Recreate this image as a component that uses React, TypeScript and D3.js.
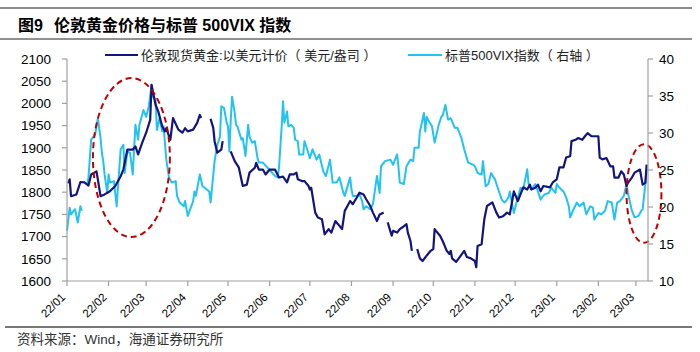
import * as d3 from 'd3';

// London spot gold, USD/oz (null = no fixing that day)
const goldDates = [
  '2022-01-02', '2022-01-03', '2022-01-04', '2022-01-08', '2022-01-11', '2022-01-14', '2022-01-17', '2022-01-19',
  '2022-01-23', '2022-01-26', '2022-01-29', '2022-02-02', '2022-02-06', '2022-02-10', '2022-02-12', '2022-02-15',
  '2022-02-19', '2022-02-21', '2022-02-23', '2022-02-26', '2022-03-01', '2022-03-04', '2022-03-05', '2022-03-08',
  '2022-03-10', '2022-03-13', '2022-03-15', '2022-03-16', '2022-03-19', '2022-03-21', '2022-03-25', '2022-03-28',
  '2022-03-30', '2022-04-01', '2022-04-05', '2022-04-08', '2022-04-10', '2022-04-11', '2022-04-14', '2022-04-18',
  '2022-04-20', '2022-04-21', '2022-04-23', '2022-04-26', '2022-04-27', '2022-04-30', '2022-05-03', '2022-05-06',
  '2022-05-09', '2022-05-12', '2022-05-15', '2022-05-17', '2022-05-21', '2022-05-22', '2022-05-24', '2022-05-27',
  '2022-05-29', '2022-06-01', '2022-06-05', '2022-06-08', '2022-06-11', '2022-06-14', '2022-06-16', '2022-06-19',
  '2022-06-21', '2022-06-22', '2022-06-25', '2022-06-27', '2022-06-30', '2022-07-01', '2022-07-02', '2022-07-05',
  '2022-07-07', '2022-07-10', '2022-07-12', '2022-07-15', '2022-07-17', '2022-07-20', '2022-07-22', '2022-07-25',
  '2022-07-27', '2022-07-29', '2022-07-31', '2022-08-02', '2022-08-05', '2022-08-07', '2022-08-10', '2022-08-12',
  '2022-08-15', '2022-08-17', '2022-08-20', '2022-08-22', '2022-08-25', '2022-08-27', '2022-08-28', '2022-08-31',
  '2022-09-01', '2022-09-04', '2022-09-06', '2022-09-08', '2022-09-11', '2022-09-12', '2022-09-14', '2022-09-15',
  '2022-09-17', '2022-09-19', '2022-09-21', '2022-09-23', '2022-09-26', '2022-09-29', '2022-10-01', '2022-10-02',
  '2022-10-03', '2022-10-06', '2022-10-08', '2022-10-11', '2022-10-13', '2022-10-14', '2022-10-15', '2022-10-18',
  '2022-10-20', '2022-10-24', '2022-10-26', '2022-10-29', '2022-11-01', '2022-11-02', '2022-11-03', '2022-11-06',
  '2022-11-08', '2022-11-10', '2022-11-14', '2022-11-17', '2022-11-19', '2022-11-22', '2022-11-25', '2022-11-27',
  '2022-11-29', '2022-11-30', '2022-12-03', '2022-12-07', '2022-12-10', '2022-12-12', '2022-12-13', '2022-12-16',
  '2022-12-18', '2022-12-20', '2022-12-22', '2022-12-27', '2022-12-29', '2023-01-01', '2023-01-03', '2023-01-06',
  '2023-01-08', '2023-01-11', '2023-01-12', '2023-01-15', '2023-01-17', '2023-01-20', '2023-01-22', '2023-01-24',
  '2023-01-27', '2023-01-29', '2023-02-01', '2023-02-02', '2023-02-04', '2023-02-07', '2023-02-10', '2023-02-12',
  '2023-02-13', '2023-02-16', '2023-02-18', '2023-02-20', '2023-02-22', '2023-02-23', '2023-02-26', '2023-02-28',
  '2023-03-04', '2023-03-06', '2023-03-08', '2023-03-09',
];
const goldValues: (number | null)[] = [
  1820, 1829, 1791, 1795, 1823, 1822, 1815, 1840,
  1847, 1791, 1795, 1802, 1814, 1836, 1851, 1896,
  1896, 1903, 1885, 1911, 1934, 1963, 2042, 1997,
  1982, 1948, 1937, 1944, 1918, 1967, 1941, 1934,
  1944, 1937, 1941, 1956, 1974, 1967, null, 1965,
  1945, 1915, 1889, 1896, 1915, null, 1892, 1870,
  1856, 1814, 1817, 1844, 1855, 1866, 1851, 1851,
  1840, 1851, 1851, 1833, 1835, 1822, 1840, 1840,
  1844, 1829, 1825, 1825, 1814, 1806, 1810, 1754,
  1743, 1739, 1705, 1717, 1709, 1735, 1728, 1717,
  1758, 1769, 1780, 1773, 1788, 1799, 1795, 1784,
  1769, 1754, 1735, 1750, 1754, null, 1732, 1702,
  1713, 1709, 1717, 1721, 1728, 1709, 1690, 1668,
  null, 1672, 1651, 1645, 1657, 1668, 1672, 1717,
  1713, 1702, 1690, 1668, 1661, 1668, 1651, 1643,
  1651, 1668, 1654, 1651, 1645, 1631, 1679, 1683,
  1739, 1769, 1777, 1754, 1743, 1746, 1754, 1750,
  1784, 1802, 1780, 1811, 1806, 1817, 1806, 1810,
  1817, 1802, 1814, 1811, 1822, 1829, 1856, 1856,
  1878, 1881, 1915, 1918, 1922, 1918, 1926, 1933,
  1926, 1926, 1926, 1878, 1874, 1877, 1858, 1858,
  1833, 1833, 1847, 1840, 1814, 1821, 1833, 1844,
  1851, 1817, 1821, 1862,
];

// S&P 500 VIX (right axis)
const vixDates = [
  '2022-01-01', '2022-01-03', '2022-01-04', '2022-01-06', '2022-01-07', '2022-01-09', '2022-01-11', '2022-01-12',
  '2022-01-14', '2022-01-16', '2022-01-17', '2022-01-19', '2022-01-22', '2022-01-24', '2022-01-26', '2022-01-27',
  '2022-01-28', '2022-01-29', '2022-01-31', '2022-02-01', '2022-02-02', '2022-02-05', '2022-02-07', '2022-02-10',
  '2022-02-12', '2022-02-13', '2022-02-15', '2022-02-17', '2022-02-19', '2022-02-21', '2022-02-23', '2022-02-24',
  '2022-02-27', '2022-03-01', '2022-03-03', '2022-03-05', '2022-03-06', '2022-03-08', '2022-03-09', '2022-03-11',
  '2022-03-13', '2022-03-14', '2022-03-16', '2022-03-18', '2022-03-20', '2022-03-23', '2022-03-24', '2022-03-26',
  '2022-03-29', '2022-03-30', '2022-04-01', '2022-04-05', '2022-04-06', '2022-04-07', '2022-04-10', '2022-04-12',
  '2022-04-15', '2022-04-17', '2022-04-18', '2022-04-21', '2022-04-23', '2022-04-25', '2022-04-26', '2022-04-28',
  '2022-04-30', '2022-05-01', '2022-05-02', '2022-05-03', '2022-05-04', '2022-05-06', '2022-05-07', '2022-05-08',
  '2022-05-11', '2022-05-12', '2022-05-14', '2022-05-16', '2022-05-17', '2022-05-19', '2022-05-21', '2022-05-23',
  '2022-05-24', '2022-05-27', '2022-05-29', '2022-06-02', '2022-06-05', '2022-06-07', '2022-06-08', '2022-06-10',
  '2022-06-11', '2022-06-12', '2022-06-14', '2022-06-15', '2022-06-17', '2022-06-19', '2022-06-20', '2022-06-22',
  '2022-06-23', '2022-06-26', '2022-06-27', '2022-06-29', '2022-07-01', '2022-07-03', '2022-07-06', '2022-07-08',
  '2022-07-11', '2022-07-13', '2022-07-16', '2022-07-18', '2022-07-21', '2022-07-23', '2022-07-26', '2022-07-27',
  '2022-07-31', '2022-08-01', '2022-08-02', '2022-08-05', '2022-08-07', '2022-08-09', '2022-08-10', '2022-08-12',
  '2022-08-15', '2022-08-17', '2022-08-20', '2022-08-22', '2022-08-23', '2022-08-26', '2022-08-30', '2022-09-01',
  '2022-09-04', '2022-09-05', '2022-09-06', '2022-09-09', '2022-09-11', '2022-09-14', '2022-09-16', '2022-09-17',
  '2022-09-20', '2022-09-21', '2022-09-24', '2022-09-25', '2022-09-26', '2022-09-27', '2022-09-30', '2022-10-02',
  '2022-10-05', '2022-10-07', '2022-10-08', '2022-10-10', '2022-10-12', '2022-10-14', '2022-10-17', '2022-10-19',
  '2022-10-22', '2022-10-24', '2022-10-27', '2022-10-31', '2022-11-01', '2022-11-03', '2022-11-06', '2022-11-07',
  '2022-11-09', '2022-11-11', '2022-11-13', '2022-11-16', '2022-11-18', '2022-11-21', '2022-11-23', '2022-11-25',
  '2022-11-26', '2022-11-27', '2022-11-30', '2022-12-02', '2022-12-05', '2022-12-07', '2022-12-08', '2022-12-10',
  '2022-12-11', '2022-12-13', '2022-12-16', '2022-12-18', '2022-12-20', '2022-12-21', '2022-12-23', '2022-12-26',
  '2022-12-28', '2022-12-31', '2023-01-01', '2023-01-03', '2023-01-06', '2023-01-08', '2023-01-10', '2023-01-11',
  '2023-01-13', '2023-01-16', '2023-01-18', '2023-01-21', '2023-01-23', '2023-01-26', '2023-01-28', '2023-01-29',
  '2023-02-01', '2023-02-03', '2023-02-06', '2023-02-08', '2023-02-11', '2023-02-13', '2023-02-15', '2023-02-17',
  '2023-02-20', '2023-02-22', '2023-02-23', '2023-02-26', '2023-02-28', '2023-03-03', '2023-03-05', '2023-03-06',
  '2023-03-08', '2023-03-09',
];
const vixValues: (number | null)[] = [
  16.8, 19.9, 19.0, 19.5, 19.7, 17.9, 20.1, 19.5,
  null, 23.0, 24.0, 29.1, 29.8, 32.0, 29.3, 27.3,
  26.2, 24.4, 21.9, 24.4, 23.3, 23.5, 20.1, 27.8,
  28.4, 24.6, 27.5, 27.3, 24.4, 31.1, 29.1, 31.1,
  33.1, 32.2, 33.6, 36.5, 34.9, 34.5, 30.4, 32.0,
  30.2, 30.9, 26.4, 24.0, 23.3, 23.5, 21.5, 20.6,
  20.1, 20.8, 18.8, 20.8, 22.1, 21.5, 24.4, 22.8,
  22.4, 22.1, 20.6, 26.2, 28.4, 29.5, 33.6, 33.4,
  31.4, 30.9, 27.5, 31.6, 34.9, 32.7, 31.1, 30.9,
  29.1, 29.3, 26.9, 31.1, 29.5, 28.7, 28.9, 26.6,
  26.0, 26.0, 25.6, 24.8, 24.2, 24.0, 25.3, 30.9,
  34.3, 31.4, 32.9, 30.9, 31.1, 30.7, 29.1, 28.9,
  27.1, 27.1, 28.9, 27.8, 26.6, 27.8, 26.4, 27.1,
  24.8, 24.2, 26.4, 23.3, 23.3, 24.0, 21.9, 21.5,
  24.0, 22.4, 21.5, 21.5, 21.7, 20.8, 19.7, 20.1,
  19.7, 20.4, 24.2, 21.9, 25.5, 26.2, 26.4, 25.7,
  27.1, 25.5, 23.3, 23.1, 25.5, 26.4, 26.2, 28.0,
  28.0, 30.2, 32.7, 30.2, 32.2, 31.8, 30.9, 28.7,
  31.1, 32.2, 32.4, 33.8, 31.8, 32.0, 30.7, 30.7,
  29.3, 27.8, 26.0, 25.7, 25.5, 24.6, 24.4, 26.2,
  22.8, 23.1, 24.6, 23.7, 22.6, 21.0, 20.6, 21.0,
  21.3, 22.1, 19.2, 20.6, 22.6, 22.4, 23.3, 25.1,
  23.1, 22.4, 23.1, 22.1, 21.0, 21.3, 21.7, 21.9,
  22.6, 21.9, 23.1, 22.6, 22.1, 21.3, 20.1, 18.6,
  19.5, 20.6, 20.1, 20.6, 19.0, 20.1, 19.9, 18.3,
  19.2, 19.0, 19.5, 20.8, 20.6, 18.3, 20.6, 20.8,
  21.5, 23.1, 21.9, 19.5, 18.6, 18.8, 19.5, 19.7,
  23.1, 25.1,
];

const leftTicks = [1600, 1650, 1700, 1750, 1800, 1850, 1900, 1950, 2000, 2050, 2100];
const rightTicks = [10, 15, 20, 25, 30, 35, 40];

// red dashed highlight rings: centre date, half-width in days, centre gold value, half-height in gold
const highlightDates = ['2022-02-18', '2023-03-07'];
const highlightDays = [28.7, 13];
const highlightGold = [1878, 1797];
const highlightSpan = [179, 111];

const GOLD = '#14147f';
const VIX = '#22c3f2';
const NUM_FONT = '"Liberation Sans", Arial, sans-serif';
const CJK_FONT = '"Liberation Sans", "Noto Sans CJK SC", sans-serif';

const parse = d3.timeParse('%Y-%m-%d');

export default function App() {
  const left = 67, right = 648, top = 59, bottom = 281;

  const x = d3.scaleTime()
    .domain([parse('2022-01-01')!, parse('2023-03-10')!])
    .range([left, right]);
  const yL = d3.scaleLinear().domain([1600, 2100]).range([bottom, top]);
  const yR = d3.scaleLinear().domain([10, 40]).range([bottom, top]);

  const gold = goldDates.map((d, i) => ({ date: parse(d)!, v: goldValues[i] }));
  const vix = vixDates.map((d, i) => ({ date: parse(d)!, v: vixValues[i] }));

  const goldLine = d3.line<{ date: Date; v: number | null }>()
    .defined(d => d.v != null)
    .x(d => x(d.date))
    .y(d => yL(d.v as number));
  const vixLine = d3.line<{ date: Date; v: number | null }>()
    .defined(d => d.v != null)
    .x(d => x(d.date))
    .y(d => yR(d.v as number));

  const months = x.ticks(d3.timeMonth.every(1)!);
  const fmt = d3.timeFormat('%y/%m');

  return (
    <div style={{ position: 'fixed', left: 0, top: 0 }}>
      <svg width={700} height={352} style={{ display: 'block', background: '#fff' }}>
        {/* header */}
        <line x1={0} x2={692} y1={8} y2={8} stroke="#666" strokeWidth={1.5} />
        <text x={18} y={31} fontFamily={CJK_FONT} fontSize={16} fontWeight="bold" fill="#000">
          <tspan>图9</tspan>
          <tspan dx={11}>伦敦黄金价格与标普 500VIX 指数</tspan>
        </text>
        <line x1={0} x2={692} y1={39} y2={39} stroke="#222" strokeWidth={1} />

        {/* legend */}
        <line x1={105} x2={138} y1={55} y2={55} stroke={GOLD} strokeWidth={2} />
        <text x={141} y={59.5} fontFamily={CJK_FONT} fontSize={13} fill="#222">
          伦敦现货黄金:以美元计价（ 美元/盎司 ）
        </text>
        <line x1={408} x2={442} y1={55} y2={55} stroke={VIX} strokeWidth={2} />
        <text x={445} y={59.5} fontFamily={CJK_FONT} fontSize={13} fill="#222">
          标普500VIX指数（ 右轴 ）
        </text>

        {/* series */}
        <path d={vixLine(vix) ?? ''} fill="none" stroke={VIX} strokeWidth={2} strokeLinejoin="round" />
        <path d={goldLine(gold) ?? ''} fill="none" stroke={GOLD} strokeWidth={2.2} strokeLinejoin="round" />

        {/* highlight rings */}
        {highlightDates.map((d, i) => {
          const c = parse(d)!;
          const cx = x(c);
          const rx = x(d3.timeHour.offset(c, highlightDays[i] * 24)) - cx;
          const cy = yL(highlightGold[i]);
          const ry = yL(highlightGold[i] - highlightSpan[i]) - cy;
          return (
            <ellipse key={d} cx={cx} cy={cy} rx={rx} ry={ry} fill="none"
              stroke="#c00000" strokeWidth={2} strokeDasharray="6,4" />
          );
        })}

        {/* left axis */}
        <line x1={left} x2={left} y1={top} y2={bottom} stroke="#a0a0a0" strokeWidth={1.2} />
        {leftTicks.map(t => (
          <g key={t}>
            <line x1={left - 5} x2={left} y1={yL(t)} y2={yL(t)} stroke="#a0a0a0" strokeWidth={1.2} />
            <text x={51} y={yL(t)} dy="0.35em" textAnchor="end" fontFamily={NUM_FONT} fontSize={13.5} fill="#000">{t}</text>
          </g>
        ))}

        {/* right axis */}
        <line x1={right} x2={right} y1={top} y2={bottom} stroke="#a0a0a0" strokeWidth={1.2} />
        {rightTicks.map(t => (
          <g key={t}>
            <line x1={right} x2={right + 5} y1={yR(t)} y2={yR(t)} stroke="#a0a0a0" strokeWidth={1.2} />
            <text x={659} y={yR(t)} dy="0.35em" fontFamily={NUM_FONT} fontSize={13.5} fill="#000">{t}</text>
          </g>
        ))}

        {/* bottom axis */}
        <line x1={left} x2={right} y1={bottom} y2={bottom} stroke="#a0a0a0" strokeWidth={1.2} />
        {months.map(m => (
          <g key={m.getTime()}>
            <line x1={x(m)} x2={x(m)} y1={bottom} y2={bottom + 5} stroke="#a0a0a0" strokeWidth={1.2} />
            <text transform={`translate(${x(m) - 1},${bottom + 17}) rotate(-45)`} textAnchor="end"
              fontFamily={NUM_FONT} fontSize={11.5} fill="#000">{fmt(m)}</text>
          </g>
        ))}

        {/* footer */}
        <line x1={5} x2={692} y1={327} y2={327} stroke="#777" strokeWidth={2} />
        <text x={17} y={344} fontFamily={CJK_FONT} fontSize={13.5} fill="#333">资料来源：Wind，海通证券研究所</text>
      </svg>
    </div>
  );
}
